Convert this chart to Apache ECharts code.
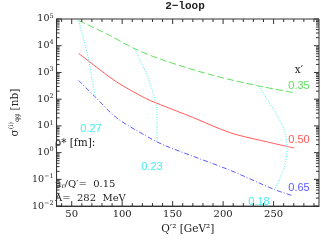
<!DOCTYPE html>
<html><head><meta charset="utf-8">
<script src="https://cdn.jsdelivr.net/npm/echarts@6/dist/echarts.min.js"></script>
<style>html,body{margin:0;padding:0;background:#fff}#c{width:321px;height:240px}</style>
</head><body><div id="c"></div>
<script>
// ---- data ----
const xTickLabels = [50, 100, 150, 200, 250];
const yTickLabels = [0.01, 0.1, 1, 10, 100, 1000, 10000, 100000];

const greenX = [56.8, 84.9, 113.7, 142.5, 190.5, 235.3, 270.4];      // x' = 0.35
const greenY = [87100, 27500, 7310, 2730, 769, 313, 174];
const redX   = [56.8, 72.1, 94.5, 123.3, 142.5, 169.6, 206.5, 238.5, 270.4]; // x' = 0.50
const redY   = [5210, 1860, 441, 107, 53.3, 21.1, 5.62, 2.79, 1.49];
const blueX  = [56.8, 73.7, 94.5, 126.5, 142.5, 206.5, 251.2, 268.9]; // x' = 0.65
const blueY  = [505, 117, 20.0, 3.68, 1.83, 0.222, 0.041, 0.0247];

const c27X = [56.8, 61.9, 66.7, 70.0, 73.7];           // rho* = 0.27
const c27Y = [87100, 17000, 3160, 582, 117];
const c23X = [112.1, 123.3, 131.3, 134.5, 134.5];      // rho* = 0.23
const c23Y = [7760, 1020, 142, 35.1, 2.63];
const c18X = [235.3, 254.5, 260.8, 263.4, 260.8, 251.2]; // rho* = 0.18
const c18Y = [314, 21.1, 6.49, 1.58, 0.293, 0.041];

const xMin = 35, xMax = 295, yMin = 0.01, yMax = 100000;

// ---- tick positions ----
const xMinor = [];
for (let v = 40; v <= 290; v += 10) if (v % 50 !== 0) xMinor.push(v);
const yMinor = [];
for (let e = -2; e < 5; e++) for (let m = 2; m <= 9; m++) yMinor.push(m * Math.pow(10, e));

const pairs = (xs, ys) => xs.map((x, i) => [x, ys[i]]);

const GREEN = '#5fe05f', RED = '#ff5a5a', BLUE = '#5a5aff', CYAN = '#44eeee';
const AX = '#333', TXT = '#222';
const SERIF = 'DejaVu Serif';

const chart = echarts.init(document.getElementById('c'), null, {renderer: 'canvas'});

function tickRender(params, api) {
  const els = [];
  const seg = (p, dx, dy) => els.push({type: 'line', shape: {x1: p[0], y1: p[1], x2: p[0] + dx, y2: p[1] + dy},
    style: {stroke: AX, lineWidth: 1}});
  xTickLabels.forEach(v => { seg(api.coord([v, yMin]), 0, -5); seg(api.coord([v, yMax]), 0, 5); });
  xMinor.forEach(v => { seg(api.coord([v, yMin]), 0, -3); seg(api.coord([v, yMax]), 0, 3); });
  yTickLabels.forEach(v => { seg(api.coord([xMin, v]), 5, 0); seg(api.coord([xMax, v]), -5, 0); });
  yMinor.forEach(v => { seg(api.coord([xMin, v]), 3, 0); seg(api.coord([xMax, v]), -3, 0); });
  return {type: 'group', children: els};
}

const supMap = {'-2': '−2', '-1': '−1', '0': '0', '1': '1', '2': '2', '3': '3', '4': '4', '5': '5'};

chart.setOption({
  animation: false,
  grid: {left: 48, right: 2, top: 19, bottom: 30, show: true, borderColor: AX, borderWidth: 1},
  xAxis: {
    type: 'value', min: xMin, max: xMax,
    axisLine: {show: true, lineStyle: {color: AX}},
    axisTick: {show: false}, splitLine: {show: false},
    axisLabel: {customValues: xTickLabels, margin: 3, color: TXT, fontFamily: SERIF, fontSize: 10},
    name: 'Q′² [GeV²]', nameLocation: 'middle', nameGap: 14,
    nameTextStyle: {fontFamily: SERIF, fontSize: 10.5, color: TXT}
  },
  yAxis: {
    type: 'log', logBase: 10, min: yMin, max: yMax,
    axisLine: {show: true, lineStyle: {color: AX}},
    axisTick: {show: false}, splitLine: {show: false}, minorTick: {show: false},
    axisLabel: {
      customValues: yTickLabels, margin: 3,
      formatter: v => '{b|10}{s|' + supMap[String(Math.round(Math.log10(v)))] + '}',
      rich: {b: {fontFamily: SERIF, fontSize: 9.5, color: TXT},
             s: {fontFamily: SERIF, fontSize: 6.5, color: TXT, padding: [0, 0, 6, 0]}}
    },
    name: '{a|σ}{p|(i)}{q|qg} {a|[nb]}', nameLocation: 'middle', nameGap: 30,
    nameTextStyle: {
      rich: {a: {fontFamily: SERIF, fontSize: 10.5, color: TXT},
             p: {fontFamily: SERIF, fontSize: 6.5, color: TXT, padding: [0, 0, 7, 0]},
             q: {fontFamily: SERIF, fontSize: 6.5, color: TXT, padding: [4, 0, 0, 0]}}
    }
  },
  series: [
    {type: 'line', data: pairs(greenX, greenY), smooth: 0.3, showSymbol: false,
     lineStyle: {color: GREEN, width: 1, type: [7, 3]}},
    {type: 'line', data: pairs(redX, redY), smooth: 0.3, showSymbol: false,
     lineStyle: {color: RED, width: 1}},
    {type: 'line', data: pairs(blueX, blueY), smooth: 0.3, showSymbol: false,
     lineStyle: {color: BLUE, width: 1, type: [5, 2, 1, 2]}},
    {type: 'line', data: pairs(c27X, c27Y), smooth: 0.3, showSymbol: false,
     lineStyle: {color: CYAN, width: 1, type: [1, 1.5]}},
    {type: 'line', data: pairs(c23X, c23Y), smooth: 0.3, showSymbol: false,
     lineStyle: {color: CYAN, width: 1, type: [1, 1.5]}},
    {type: 'line', data: pairs(c18X, c18Y), smooth: 0.3, showSymbol: false,
     lineStyle: {color: CYAN, width: 1, type: [1, 1.5]}},
    {type: 'custom', data: [0], renderItem: tickRender, clip: false, silent: true, z: 5}
  ],
  graphic: [
    {type: 'text', x: 185, y: 6, style: {text: '2−loop', align: 'center', verticalAlign: 'middle',
      font: 'bold 11px "Liberation Mono"', fill: TXT}},
    {type: 'text', x: 299, y: 70, style: {text: 'x′', align: 'center', verticalAlign: 'middle',
      font: '10.5px "DejaVu Serif"', fill: TXT}},
    {type: 'text', x: 299, y: 86, style: {text: '0.35', align: 'center', verticalAlign: 'middle',
      font: '11px "Liberation Sans"', fill: GREEN}},
    {type: 'text', x: 299, y: 140, style: {text: '0.50', align: 'center', verticalAlign: 'middle',
      font: '11px "Liberation Sans"', fill: RED}},
    {type: 'text', x: 299, y: 188, style: {text: '0.65', align: 'center', verticalAlign: 'middle',
      font: '11px "Liberation Sans"', fill: BLUE}},
    {type: 'text', x: 91, y: 129, style: {text: '0.27', align: 'center', verticalAlign: 'middle',
      font: '11px "Liberation Sans"', fill: CYAN}},
    {type: 'text', x: 152, y: 167, style: {text: '0.23', align: 'center', verticalAlign: 'middle',
      font: '11px "Liberation Sans"', fill: CYAN}},
    {type: 'text', x: 259, y: 202, style: {text: '0.18', align: 'center', verticalAlign: 'middle',
      font: '11px "Liberation Sans"', fill: CYAN}},
    {type: 'text', x: 55, y: 143, style: {text: 'ρ* [fm]:', verticalAlign: 'middle',
      font: '10.5px "DejaVu Serif"', fill: TXT}},
    {type: 'text', x: 55, y: 184, style: {text: '{a|μ}{r|r}{a|/Q′=  0.15}', verticalAlign: 'middle',
      rich: {a: {fontFamily: SERIF, fontSize: 10, fill: TXT},
             r: {fontFamily: SERIF, fontSize: 6.5, fill: TXT, padding: [4, 0, 0, 0]}}}},
    {type: 'text', x: 55, y: 198, style: {text: 'Λ=  282  MeV', verticalAlign: 'middle',
      font: '10px "DejaVu Serif"', fill: TXT}}
  ]
});
</script></body></html>
